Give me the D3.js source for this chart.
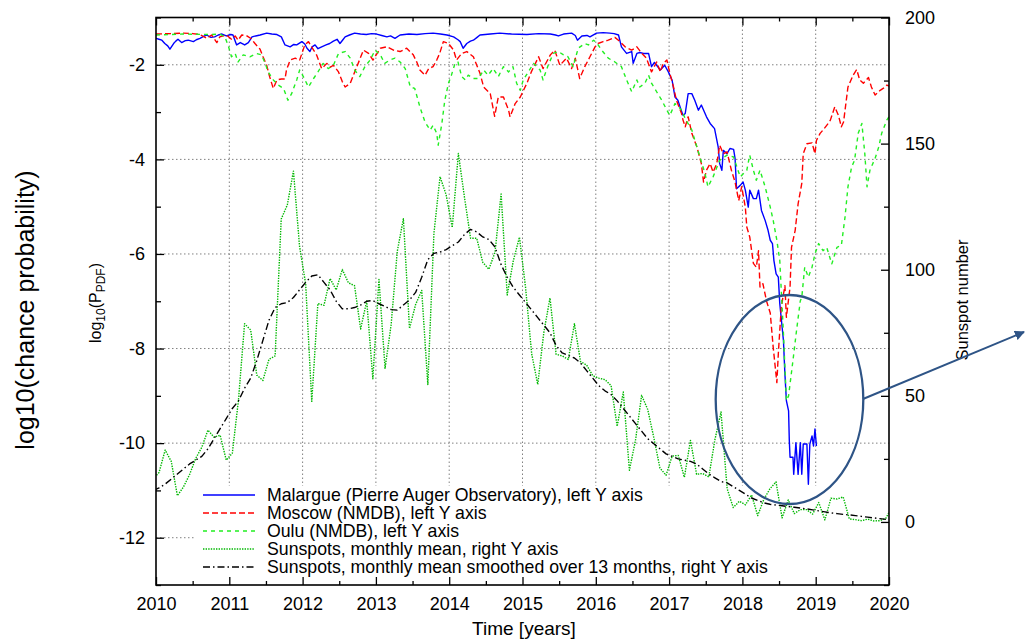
<!DOCTYPE html>
<html>
<head>
<meta charset="utf-8">
<script src="https://cdn.jsdelivr.net/npm/d3@7"></script>
<style>
  body { margin: 0; background: #fff; }
  svg { display: block; }
  text { font-family: "Liberation Sans", Arial, Helvetica, sans-serif; fill: #000; }
</style>
</head>
<body>
<svg id="chart" width="1026" height="641"></svg>
<script>
// ---- data -------------------------------------------------------------
// chance probability series: [decimal year, log10(P)]
const malargue = [
  [2010.00,-1.44],[2010.04,-1.46],[2010.08,-1.48],[2010.12,-1.55],[2010.16,-1.60],[2010.19,-1.67],[2010.24,-1.55],[2010.27,-1.50],
  [2010.30,-1.46],[2010.35,-1.53],[2010.40,-1.49],[2010.44,-1.48],[2010.51,-1.51],[2010.55,-1.47],[2010.60,-1.44],[2010.65,-1.40],
  [2010.69,-1.37],[2010.75,-1.42],[2010.80,-1.41],[2010.85,-1.37],[2010.90,-1.35],[2010.96,-1.39],[2011.02,-1.36],[2011.05,-1.37],
  [2011.10,-1.58],[2011.15,-1.53],[2011.21,-1.58],[2011.26,-1.53],[2011.31,-1.41],[2011.36,-1.39],[2011.42,-1.37],[2011.51,-1.33],
  [2011.58,-1.35],[2011.65,-1.36],[2011.71,-1.41],[2011.76,-1.58],[2011.83,-1.62],[2011.88,-1.57],[2011.92,-1.58],[2011.99,-1.51],
  [2012.03,-1.56],[2012.06,-1.65],[2012.10,-1.72],[2012.13,-1.62],[2012.17,-1.58],[2012.21,-1.66],[2012.26,-1.62],[2012.32,-1.58],
  [2012.37,-1.55],[2012.42,-1.50],[2012.47,-1.46],[2012.51,-1.55],[2012.55,-1.47],[2012.58,-1.41],[2012.64,-1.37],[2012.71,-1.33],
  [2012.79,-1.35],[2012.87,-1.36],[2012.94,-1.34],[2013.01,-1.35],[2013.08,-1.38],[2013.15,-1.41],[2013.20,-1.39],[2013.26,-1.44],
  [2013.33,-1.37],[2013.45,-1.35],[2013.56,-1.36],[2013.67,-1.34],[2013.78,-1.33],[2013.88,-1.35],[2013.97,-1.37],[2014.06,-1.41],
  [2014.12,-1.47],[2014.15,-1.51],[2014.19,-1.65],[2014.24,-1.55],[2014.29,-1.50],[2014.33,-1.48],[2014.38,-1.42],[2014.42,-1.37],
  [2014.56,-1.35],[2014.69,-1.33],[2014.85,-1.35],[2015.06,-1.36],[2015.22,-1.34],[2015.38,-1.35],[2015.45,-1.37],[2015.49,-1.39],
  [2015.56,-1.35],[2015.67,-1.33],[2015.72,-1.38],[2015.75,-1.48],[2015.81,-1.39],[2015.88,-1.38],[2015.92,-1.41],[2016.01,-1.33],
  [2016.10,-1.32],[2016.19,-1.33],[2016.25,-1.34],[2016.31,-1.37],[2016.35,-1.62],[2016.39,-1.70],[2016.42,-1.76],[2016.49,-1.72],
  [2016.51,-1.97],[2016.56,-1.76],[2016.60,-1.74],[2016.65,-1.76],[2016.72,-1.76],[2016.76,-2.04],[2016.80,-1.95],[2016.83,-2.01],
  [2016.88,-2.11],[2016.94,-2.01],[2016.99,-2.15],[2017.04,-2.32],[2017.08,-2.68],[2017.12,-2.75],[2017.15,-2.89],[2017.19,-3.07],
  [2017.22,-3.03],[2017.26,-2.61],[2017.31,-2.61],[2017.35,-2.75],[2017.40,-2.96],[2017.44,-2.85],[2017.51,-3.10],[2017.56,-3.24],
  [2017.62,-3.35],[2017.67,-3.74],[2017.69,-4.09],[2017.72,-4.23],[2017.74,-3.81],[2017.79,-3.88],[2017.83,-3.77],[2017.88,-3.79],
  [2017.90,-3.98],[2017.92,-4.62],[2017.97,-4.55],[2018.01,-4.48],[2018.04,-4.65],[2018.08,-5.01],[2018.10,-4.65],[2018.15,-4.83],
  [2018.19,-4.83],[2018.22,-4.65],[2018.26,-5.08],[2018.31,-5.29],[2018.35,-5.50],[2018.38,-5.71],[2018.41,-5.78],[2018.43,-6.14],
  [2018.46,-6.42],[2018.49,-6.49],[2018.51,-7.05],[2018.56,-7.83],[2018.58,-8.54],[2018.60,-9.10],[2018.63,-9.32],[2018.64,-9.95],
  [2018.65,-10.30],[2018.69,-10.30],[2018.70,-10.66],[2018.73,-9.99],[2018.76,-10.66],[2018.79,-9.99],[2018.81,-10.66],[2018.83,-10.02],
  [2018.88,-10.02],[2018.90,-10.87],[2018.92,-10.02],[2018.95,-9.85],[2018.97,-10.06],[2018.99,-9.70],[2019.01,-10.06]
];

const moscow = [
  [2010.00,-1.35],[2010.20,-1.34],[2010.37,-1.33],[2010.50,-1.34],[2010.60,-1.36],[2010.69,-1.44],[2010.76,-1.37],[2010.83,-1.53],
  [2010.87,-1.41],[2010.96,-1.37],[2011.03,-1.46],[2011.08,-1.39],[2011.12,-1.48],[2011.17,-1.37],[2011.24,-1.39],[2011.30,-1.45],
  [2011.35,-1.55],[2011.42,-1.67],[2011.46,-1.83],[2011.51,-2.01],[2011.55,-2.25],[2011.60,-2.50],[2011.65,-2.32],[2011.71,-2.30],
  [2011.76,-2.30],[2011.78,-2.11],[2011.83,-1.90],[2011.90,-1.86],[2011.96,-1.90],[2012.03,-1.58],[2012.08,-1.51],[2012.15,-1.69],
  [2012.19,-1.79],[2012.26,-2.08],[2012.33,-1.97],[2012.38,-2.05],[2012.42,-2.01],[2012.49,-2.15],[2012.54,-2.35],[2012.58,-2.47],
  [2012.65,-2.39],[2012.74,-2.04],[2012.83,-1.69],[2012.90,-1.76],[2012.96,-1.90],[2013.06,-1.65],[2013.15,-1.62],[2013.24,-1.69],
  [2013.33,-1.72],[2013.42,-1.65],[2013.51,-1.79],[2013.56,-1.95],[2013.60,-2.11],[2013.67,-2.22],[2013.72,-2.08],[2013.78,-2.04],
  [2013.83,-1.90],[2013.87,-1.76],[2013.92,-1.51],[2013.99,-1.55],[2014.06,-1.69],[2014.10,-1.90],[2014.17,-1.76],[2014.24,-1.72],
  [2014.33,-1.83],[2014.42,-2.18],[2014.47,-2.47],[2014.56,-2.61],[2014.62,-3.09],[2014.67,-2.68],[2014.74,-2.68],[2014.81,-2.96],
  [2014.83,-3.10],[2014.90,-2.82],[2014.97,-2.68],[2015.06,-2.39],[2015.12,-2.15],[2015.22,-1.83],[2015.28,-2.08],[2015.38,-1.79],
  [2015.44,-1.69],[2015.51,-2.01],[2015.60,-1.86],[2015.67,-2.08],[2015.72,-1.86],[2015.78,-2.29],[2015.85,-2.04],[2015.92,-1.83],
  [2015.99,-1.62],[2016.03,-1.55],[2016.10,-1.51],[2016.17,-1.48],[2016.26,-1.42],[2016.33,-1.51],[2016.40,-1.62],[2016.49,-1.69],
  [2016.56,-1.62],[2016.63,-1.76],[2016.69,-1.86],[2016.76,-2.15],[2016.83,-1.94],[2016.88,-2.15],[2016.92,-1.97],[2016.97,-1.90],
  [2017.01,-2.18],[2017.06,-2.47],[2017.10,-2.75],[2017.17,-3.03],[2017.19,-3.17],[2017.22,-3.31],[2017.26,-3.10],[2017.31,-3.45],
  [2017.38,-3.74],[2017.44,-4.09],[2017.47,-4.48],[2017.51,-4.23],[2017.56,-4.09],[2017.60,-4.27],[2017.65,-4.09],[2017.69,-3.70],
  [2017.74,-3.88],[2017.79,-3.84],[2017.85,-4.23],[2017.90,-4.48],[2017.95,-4.87],[2017.99,-4.58],[2018.04,-5.01],[2018.06,-5.43],
  [2018.10,-5.64],[2018.15,-6.20],[2018.19,-6.28],[2018.22,-5.93],[2018.24,-6.70],[2018.28,-6.63],[2018.33,-7.00],[2018.38,-7.25],
  [2018.42,-7.97],[2018.47,-8.72],[2018.49,-8.11],[2018.53,-7.13],[2018.58,-6.67],[2018.60,-7.34],[2018.65,-6.70],[2018.67,-5.86],
  [2018.72,-5.50],[2018.76,-4.94],[2018.81,-4.51],[2018.83,-3.88],[2018.88,-3.67],[2018.95,-3.65],[2018.99,-3.88],[2019.01,-3.60],
  [2019.06,-3.45],[2019.10,-3.38],[2019.17,-3.24],[2019.20,-3.17],[2019.26,-2.89],[2019.31,-3.07],[2019.35,-3.31],[2019.38,-3.21],
  [2019.44,-2.47],[2019.51,-2.22],[2019.56,-2.10],[2019.60,-2.32],[2019.65,-2.39],[2019.72,-2.27],[2019.76,-2.47],[2019.81,-2.64],
  [2019.88,-2.54],[2019.92,-2.50],[2019.97,-2.43],[2020.00,-2.45]
];

const oulu = [
  [2010.00,-1.37],[2010.37,-1.35],[2010.74,-1.36],[2010.87,-1.35],[2010.94,-1.41],[2010.99,-1.62],[2011.03,-1.83],[2011.08,-1.76],
  [2011.12,-1.94],[2011.19,-1.79],[2011.28,-1.83],[2011.37,-1.76],[2011.44,-1.79],[2011.49,-1.97],[2011.53,-2.15],[2011.60,-2.32],
  [2011.67,-2.43],[2011.74,-2.50],[2011.80,-2.75],[2011.85,-2.61],[2011.92,-2.32],[2011.96,-2.11],[2012.01,-2.25],[2012.08,-2.47],
  [2012.15,-2.29],[2012.21,-2.15],[2012.28,-1.97],[2012.35,-2.08],[2012.42,-2.01],[2012.49,-1.76],[2012.58,-1.72],[2012.65,-1.86],
  [2012.71,-2.11],[2012.78,-2.25],[2012.85,-2.04],[2012.92,-1.90],[2012.99,-1.69],[2013.06,-1.79],[2013.12,-1.97],[2013.19,-1.90],
  [2013.26,-1.86],[2013.33,-1.94],[2013.40,-2.08],[2013.47,-2.47],[2013.53,-2.50],[2013.60,-2.89],[2013.67,-3.21],[2013.74,-3.38],
  [2013.78,-3.28],[2013.83,-3.45],[2013.85,-3.70],[2013.90,-3.24],[2013.94,-2.75],[2013.99,-2.39],[2014.03,-2.22],[2014.08,-1.97],
  [2014.12,-1.94],[2014.17,-2.25],[2014.22,-2.32],[2014.26,-2.22],[2014.33,-2.29],[2014.40,-2.29],[2014.47,-2.11],[2014.53,-2.22],
  [2014.60,-2.08],[2014.67,-2.25],[2014.74,-2.04],[2014.81,-2.15],[2014.87,-2.04],[2014.92,-2.39],[2014.97,-2.54],[2015.01,-2.32],
  [2015.08,-2.15],[2015.15,-1.97],[2015.24,-2.11],[2015.28,-2.32],[2015.35,-2.01],[2015.42,-1.76],[2015.49,-1.72],[2015.56,-1.79],
  [2015.62,-1.83],[2015.69,-2.04],[2015.76,-1.65],[2015.85,-1.55],[2015.90,-1.58],[2015.97,-1.48],[2016.01,-1.53],[2016.08,-1.69],
  [2016.17,-1.86],[2016.26,-1.94],[2016.35,-2.04],[2016.42,-2.32],[2016.49,-2.57],[2016.56,-2.32],[2016.60,-2.47],[2016.67,-2.39],
  [2016.72,-2.22],[2016.76,-2.39],[2016.83,-2.57],[2016.90,-2.75],[2016.97,-2.96],[2017.01,-3.07],[2017.08,-2.82],[2017.13,-2.89],
  [2017.17,-2.96],[2017.22,-3.14],[2017.31,-3.38],[2017.35,-3.59],[2017.42,-3.95],[2017.49,-4.30],[2017.53,-4.58],[2017.60,-4.37],
  [2017.69,-4.02],[2017.79,-3.91],[2017.88,-3.95],[2017.97,-4.37],[2018.06,-4.23],[2018.10,-3.91],[2018.15,-4.23],[2018.19,-4.44],
  [2018.24,-4.23],[2018.31,-4.58],[2018.38,-5.01],[2018.42,-5.29],[2018.47,-5.71],[2018.51,-6.14],[2018.56,-7.69],[2018.60,-9.10],
  [2018.63,-9.00],[2018.69,-8.25],[2018.74,-7.60],[2018.79,-6.99],[2018.81,-6.92],[2018.85,-6.28],[2018.90,-6.49],[2018.95,-6.28],
  [2018.99,-6.00],[2019.04,-5.78],[2019.10,-5.93],[2019.15,-5.86],[2019.22,-6.21],[2019.29,-5.86],[2019.35,-5.82],[2019.40,-5.22],
  [2019.44,-4.58],[2019.49,-4.16],[2019.53,-4.02],[2019.58,-3.45],[2019.63,-3.24],[2019.67,-3.88],[2019.70,-4.58],[2019.74,-4.23],
  [2019.81,-3.98],[2019.86,-3.74],[2019.90,-3.45],[2019.97,-3.17],[2020.00,-3.10]
];

// monthly sunspot numbers, first entry is December 2009
const sunspotStart = [2009, 12];
const sunspotMonthly = [
  17.0,
  19.6, 28.5, 24.0, 10.4, 13.9, 18.8, 25.2, 29.6, 36.4, 33.6, 34.4, 24.5,
  27.3, 48.3, 78.6, 76.1, 58.2, 56.1, 64.5, 65.8, 120.1, 125.7, 139.1, 109.3,
  94.4, 47.8, 86.6, 85.9, 96.5, 92.0, 100.1, 94.8, 93.7, 76.5, 87.6, 56.8,
  96.1, 60.9, 78.3, 107.3, 120.2, 76.7, 86.2, 91.8, 54.5, 114.4, 136.9, 129.7,
  116.7, 146.1, 128.7, 112.5, 112.5, 102.9, 100.2, 106.9, 130.0, 90.0, 103.6, 112.9,
  93.0, 66.7, 54.5, 75.3, 88.8, 66.5, 65.8, 64.4, 78.6, 63.6, 62.2, 58.0,
  57.0, 56.4, 54.1, 37.9, 51.5, 20.5, 32.4, 50.2, 44.6, 33.4, 21.4, 18.5,
  26.1, 26.4, 17.7, 32.3, 18.9, 19.2, 17.8, 32.6, 43.6, 13.2, 5.7, 8.2,
  6.8, 10.7, 2.5, 8.9, 13.1, 15.9, 1.6, 8.7, 3.3, 4.9, 4.9, 3.1,
  7.7, 0.8, 9.4, 9.1, 9.9, 1.2, 0.9, 0.5, 1.1, 0.4, 0.5, 1.5,
  6.2
];
// 13-month smoothed sunspot numbers, first entry is December 2009
const sunspotSmoothed = [
  12.5,
  13.5, 15, 17, 19, 21, 23, 24.5, 26, 29, 33, 37, 41,
  45, 48, 53, 57, 64, 72, 80, 85, 86.5, 87, 89, 92,
  95, 97.5, 98, 95, 92, 87.5, 84.5, 84.5, 85, 86, 87.5, 87.8,
  86.5, 85.5, 84.2, 84, 86, 88, 91, 97, 104, 106.5, 107, 108,
  109.5, 111, 114, 116, 115, 113, 112, 109, 102, 97, 93, 90,
  87, 84, 81, 78, 75, 70, 67, 66, 65, 63, 60, 57,
  54, 52, 50.5, 48, 45, 42, 39, 36, 33, 31, 29, 27,
  26, 25, 24.5, 24, 23, 21, 19, 17.5, 16, 15.5, 14, 12.5,
  11, 9.5, 8.5, 7.6, 7, 6.7, 6.4, 6.1, 5.8, 5.5, 5.2, 4.8,
  4.4, 4, 3.6, 3.3, 3, 2.8, 2.5, 2.2, 1.9, 1.6, 1.3, 1.0
];

const yearTicks = [2010, 2011, 2012, 2013, 2014, 2015, 2016, 2017, 2018, 2019, 2020];
const leftTicks = [-12, -10, -8, -6, -4, -2];
const rightTicks = [0, 50, 100, 150, 200];

const legendLabels = [
  "Malargue (Pierre Auger Observatory), left Y axis",
  "Moscow (NMDB), left Y axis",
  "Oulu (NMDB), left Y axis",
  "Sunspots, monthly mean, right Y axis",
  "Sunspots, monthly mean smoothed over 13 months, right Y axis"
];

// ---- layout -----------------------------------------------------------
const plot = { left: 156, right: 889, top: 17.5, bottom: 585 };
const svg = d3.select("#chart");

const x = d3.scaleLinear().domain([2010, 2020]).range([plot.left, plot.right]);
const yL = d3.scaleLinear().domain([-13, -1]).range([plot.bottom, plot.top]);
const yR = d3.scaleLinear().domain([-25, 200]).range([plot.bottom, plot.top]);

const monthTime = (start, i) => start[0] + (start[1] - 1 + i + 0.5) / 12;
const monthlyPts = sunspotMonthly.map((v, i) => [monthTime(sunspotStart, i), v]);
const smoothedPts = sunspotSmoothed.map((v, i) => [monthTime(sunspotStart, i), v]);

const styles = [
  { color: "#0000ff", dash: null,          width: 1.4 },
  { color: "#ff0000", dash: "6,3",         width: 1.4 },
  { color: "#22ee22", dash: "4,4",         width: 1.4 },
  { color: "#00b800", dash: "1.4,1.2",     width: 1.4 },
  { color: "#000000", dash: "7,3,1.5,3",   width: 1.4 }
];

svg.append("defs").append("clipPath").attr("id", "plotClip")
  .append("rect")
  .attr("x", plot.left).attr("y", plot.top)
  .attr("width", plot.right - plot.left).attr("height", plot.bottom - plot.top);

// ---- grid -------------------------------------------------------------
const grid = svg.append("g").attr("stroke", "#808080").attr("stroke-width", 1)
  .attr("stroke-dasharray", "1.5,2.5");
grid.selectAll("line.v").data(yearTicks.slice(1, -1)).join("line")
  .attr("x1", d => x(d)).attr("x2", d => x(d))
  .attr("y1", plot.top).attr("y2", plot.bottom);
grid.selectAll("line.h").data(leftTicks).join("line")
  .attr("x1", plot.left).attr("x2", plot.right)
  .attr("y1", d => yL(d)).attr("y2", d => yL(d));

// legend area is opaque over the grid
const legendBox = { x: 195, y: 486, w: plot.right - 195, h: plot.bottom - 486 };
svg.append("rect")
  .attr("x", legendBox.x).attr("y", legendBox.y)
  .attr("width", legendBox.w).attr("height", legendBox.h)
  .attr("fill", "#fff");

// ---- series -----------------------------------------------------------
const lineL = d3.line().x(d => x(d[0])).y(d => yL(d[1]));
const lineR = d3.line().x(d => x(d[0])).y(d => yR(d[1]));

const series = [
  { data: malargue, gen: lineL },
  { data: moscow, gen: lineL },
  { data: oulu, gen: lineL },
  { data: monthlyPts, gen: lineR },
  { data: smoothedPts, gen: lineR }
];

const dataG = svg.append("g").attr("clip-path", "url(#plotClip)");
series.forEach((s, i) => {
  dataG.append("path")
    .attr("d", s.gen(s.data))
    .attr("fill", "none")
    .attr("stroke", styles[i].color)
    .attr("stroke-width", styles[i].width)
    .attr("stroke-dasharray", styles[i].dash)
    .attr("stroke-linejoin", "round");
});

// ---- axes -------------------------------------------------------------
function styleAxis(g) {
  g.select(".domain").remove();
  g.selectAll("line").attr("stroke", "#000").attr("stroke-width", 1.3);
  g.selectAll("text").attr("font-family", "Liberation Sans, Arial, sans-serif")
    .attr("font-size", 18).attr("fill", "#000");
  g.attr("font-family", null).attr("font-size", null);
}
const halfYears = d3.range(2010.5, 2020, 1);
const oddLeft = [-13, -11, -9, -7, -5, -3, -1];
const quarterRight = [-25, 25, 75, 125, 175];

svg.append("g").attr("transform", `translate(0,${plot.bottom})`)
  .call(d3.axisBottom(x).tickValues(yearTicks).tickFormat(d3.format("d"))
    .tickSizeInner(-8).tickSizeOuter(0).tickPadding(12)).call(styleAxis);
svg.append("g").attr("transform", `translate(0,${plot.bottom})`)
  .call(d3.axisBottom(x).tickValues(halfYears).tickFormat("")
    .tickSizeInner(-4).tickSizeOuter(0)).call(styleAxis);
svg.append("g").attr("transform", `translate(0,${plot.top})`)
  .call(d3.axisTop(x).tickValues(yearTicks).tickFormat("")
    .tickSizeInner(-8).tickSizeOuter(0)).call(styleAxis);
svg.append("g").attr("transform", `translate(0,${plot.top})`)
  .call(d3.axisTop(x).tickValues(halfYears).tickFormat("")
    .tickSizeInner(-4).tickSizeOuter(0)).call(styleAxis);

svg.append("g").attr("transform", `translate(${plot.left},0)`)
  .call(d3.axisLeft(yL).tickValues(leftTicks).tickFormat(d => String(d))
    .tickSizeInner(-8).tickSizeOuter(0).tickPadding(11)).call(styleAxis);
svg.append("g").attr("transform", `translate(${plot.left},0)`)
  .call(d3.axisLeft(yL).tickValues(oddLeft).tickFormat("")
    .tickSizeInner(-5).tickSizeOuter(0)).call(styleAxis);

svg.append("g").attr("transform", `translate(${plot.right},0)`)
  .call(d3.axisRight(yR).tickValues(rightTicks).tickFormat(d => String(d))
    .tickSizeInner(-8).tickSizeOuter(0).tickPadding(16)).call(styleAxis);
svg.append("g").attr("transform", `translate(${plot.right},0)`)
  .call(d3.axisRight(yR).tickValues(quarterRight).tickFormat("")
    .tickSizeInner(-5).tickSizeOuter(0)).call(styleAxis);

// frame
svg.append("rect")
  .attr("x", plot.left).attr("y", plot.top)
  .attr("width", plot.right - plot.left).attr("height", plot.bottom - plot.top)
  .attr("fill", "none").attr("stroke", "#000").attr("stroke-width", 1.6);

// ---- legend -----------------------------------------------------------
const legendRowY = d => 495 + d * 18;
const legend = svg.append("g");
legendLabels.forEach((label, i) => {
  legend.append("line")
    .attr("x1", 203).attr("x2", 255)
    .attr("y1", legendRowY(i)).attr("y2", legendRowY(i))
    .attr("stroke", styles[i].color)
    .attr("stroke-width", styles[i].width)
    .attr("stroke-dasharray", styles[i].dash);
  legend.append("text")
    .attr("x", 267).attr("y", legendRowY(i)).attr("dy", "0.36em")
    .attr("font-size", 17.7)
    .text(label);
});

// ---- titles -----------------------------------------------------------
svg.append("text")
  .attr("x", 524).attr("y", 635).attr("text-anchor", "middle")
  .attr("font-size", 19).text("Time [years]");

const yTitle = svg.append("text")
  .attr("transform", "translate(95,303) rotate(-90)")
  .attr("text-anchor", "middle").attr("dy", "0.35em")
  .attr("font-size", 16);
yTitle.append("tspan").text("log");
yTitle.append("tspan").attr("font-size", 12).attr("dy", 4).text("10");
yTitle.append("tspan").attr("dy", -4).text("(P");
yTitle.append("tspan").attr("font-size", 12).attr("dy", 4).text("PDF");
yTitle.append("tspan").attr("dy", -4).text(")");

svg.append("text")
  .attr("transform", "translate(25,310) rotate(-90)")
  .attr("text-anchor", "middle").attr("dy", "0.35em")
  .attr("font-size", 25).text("log10(chance probability)");

svg.append("text")
  .attr("transform", "translate(962,300) rotate(-90)")
  .attr("text-anchor", "middle").attr("dy", "0.35em")
  .attr("font-size", 16.5).text("Sunspot number");

// ---- highlight of the 2018 minimum ------------------------------------
const markColor = "#2E5486";
svg.append("ellipse")
  .attr("cx", 789.5).attr("cy", 399.5).attr("rx", 73.8).attr("ry", 104.5)
  .attr("fill", "none").attr("stroke", markColor).attr("stroke-width", 2.3);

svg.append("defs").append("marker")
  .attr("id", "arrowHead").attr("viewBox", "0 0 10 10")
  .attr("refX", 9).attr("refY", 5)
  .attr("markerWidth", 5).attr("markerHeight", 5)
  .attr("markerUnits", "strokeWidth")
  .attr("orient", "auto")
  .append("path").attr("d", "M0,0 L10,5 L0,10 z").attr("fill", markColor);

svg.append("line")
  .attr("x1", 863).attr("y1", 399).attr("x2", 1024).attr("y2", 332)
  .attr("stroke", markColor).attr("stroke-width", 2)
  .attr("marker-end", "url(#arrowHead)");
</script>
</body>
</html>
